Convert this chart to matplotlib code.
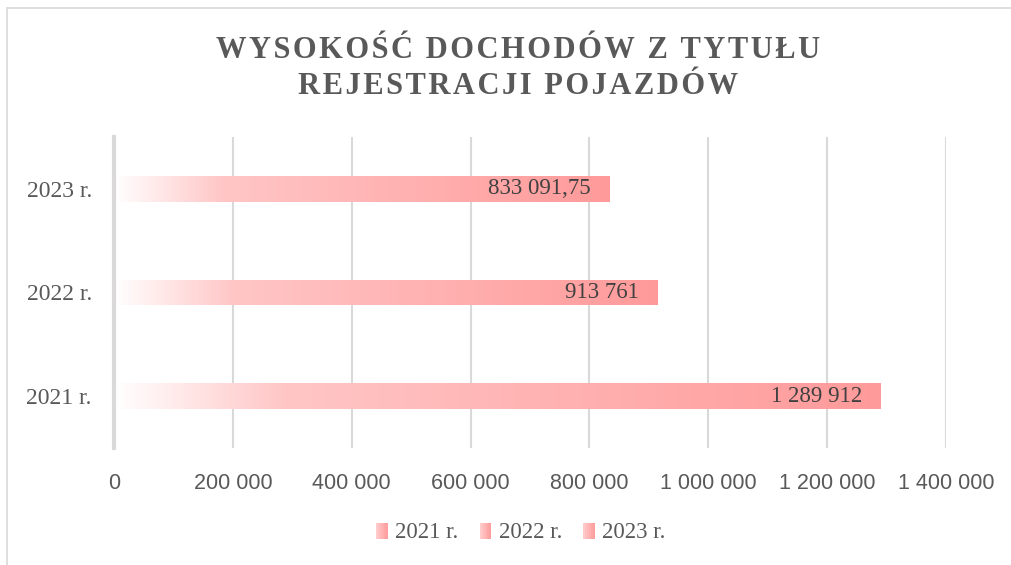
import numpy as np
import matplotlib.pyplot as plt
from matplotlib.colors import LinearSegmentedColormap
from matplotlib.patches import Rectangle
from matplotlib.legend_handler import HandlerBase

years = ["2021 r.", "2022 r.", "2023 r."]
values = [1289912, 913761, 833091.75]
value_labels = ["1 289 912", "913 761", "833 091,75"]
x_ticks = [0, 200000, 400000, 600000, 800000, 1000000, 1200000, 1400000]
x_tick_labels = ["0", "200 000", "400 000", "600 000", "800 000",
                 "1 000 000", "1 200 000", "1 400 000"]

title_lines = ["WYSOKOŚĆ DOCHODÓW Z TYTUŁU", "REJESTRACJI POJAZDÓW"]

serif = ["Liberation Serif", "DejaVu Serif"]
narrow = ["Liberation Sans Narrow", "Liberation Sans", "DejaVu Sans"]

grad = LinearSegmentedColormap.from_list(
    "bar_grad",
    [(0.0, "#FFFFFF"), (0.22, "#FFC6C6"), (1.0, "#FF9A9A")]
)


class GradientHandler(HandlerBase):

    def create_artists(self, legend, orig_handle, xdescent, ydescent,
                       width, height, fontsize, trans):
        size = height * 0.95
        x0 = width - size
        y0 = (height - size) / 2 - 1
        n = 8
        artists = []
        for i in range(n):
            r = Rectangle((x0 + i * size / n, y0), size / n + 0.3, size,
                          facecolor=grad(min(1, 0.2 + i / (n - 1))),
                          edgecolor="none", transform=trans)
            artists.append(r)
        return artists


fig = plt.figure(figsize=(10.11, 5.65), dpi=100)
fig.patches.append(Rectangle((7 / 1011, -0.1), 1.2, 1 - 8 / 565 + 0.1,
                             transform=fig.transFigure, fill=False,
                             edgecolor="#D9D9D9", linewidth=1.2))

ax = fig.add_axes([114 / 1011, 1 - 448 / 565, 832 / 1011, 311 / 565])

pos = np.arange(len(years))
bars = ax.barh(pos, values, height=0.25, color="none", zorder=2)

gradient = np.linspace(0, 1, 256).reshape(1, -1)
for b in bars:
    x, y = b.get_x(), b.get_y()
    w, h = b.get_width(), b.get_height()
    im = ax.imshow(gradient, cmap=grad, aspect="auto",
                   extent=[x, x + w, y, y + h], zorder=2,
                   interpolation="bilinear")
    im.set_clip_path(b)

for b, lab in zip(bars, value_labels):
    ax.annotate(lab, (b.get_width(), b.get_y() + b.get_height() / 2),
                xytext=(-13, 0), textcoords="offset points",
                ha="right", va="center", fontsize=16.5, family=serif,
                color="#404040", zorder=3)

ax.set_xlim(0, 1400000)
ax.set_ylim(-0.5, 2.5)
ax.set_xticks(x_ticks)
ax.set_xticklabels(x_tick_labels, family=narrow, fontsize=15.5,
                   color="#595959")
ax.set_yticks(pos)
ax.set_yticklabels(years, family=serif, fontsize=17, color="#595959")
ax.tick_params(axis="both", length=0)
ax.tick_params(axis="x", pad=18)
ax.tick_params(axis="y", pad=16)

ax.grid(axis="x", color="#D9D9D9", linewidth=1.5, zorder=1)
ax.set_axisbelow(True)
for s in ["top", "right", "bottom"]:
    ax.spines[s].set_visible(False)
ax.spines["left"].set_color("#D9D9D9")
ax.spines["left"].set_linewidth(3)

# letter spacing via hair spaces
for line, ypix in zip(title_lines, [50, 87]):
    spaced = "\u200a".join(line)
    fig.text(0.512, 1 - ypix / 565, spaced, ha="center", va="center",
             family=serif, fontweight="bold", fontsize=22, color="#595959")

handles = [Rectangle((0, 0), 1, 1) for _ in years]
fig.legend(handles, years, loc="center", bbox_to_anchor=(0.516, 1 - 532 / 565),
           ncol=3, frameon=False, handler_map={Rectangle: GradientHandler()},
           prop={"family": serif, "size": 16.5}, labelcolor="#595959",
           handlelength=0.6, handletextpad=0.15, columnspacing=1.0)

fig.savefig("out.png", dpi=100)
